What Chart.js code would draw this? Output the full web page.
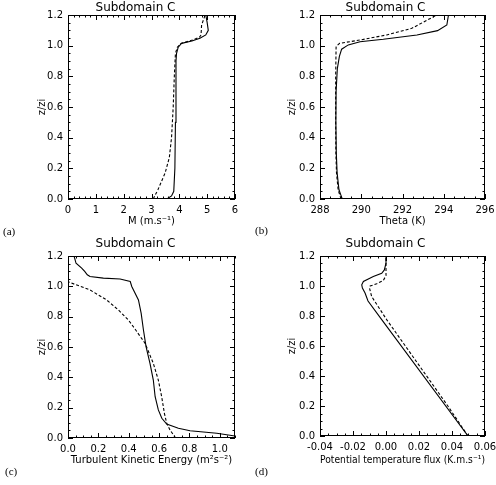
<!DOCTYPE html>
<html lang="en">
<head>
<meta charset="UTF-8" />
<title>Subdomain C profiles</title>
<script src="https://cdn.jsdelivr.net/npm/chart.js"></script>
<style>
  body { margin: 0; background: #fff; width: 496px; height: 485px; position: relative; overflow: hidden; }
  canvas { position: absolute; }
  .tag { position: absolute; font-family: "Liberation Serif", serif; font-size: 11px; line-height: 11px; color: #000; }
</style>
</head>
<body>
<canvas id="chartA" width="248" height="242" style="left:0;top:0"></canvas>
<canvas id="chartB" width="248" height="242" style="left:248px;top:0"></canvas>
<canvas id="chartC" width="248" height="251" style="left:0;top:234px"></canvas>
<canvas id="chartD" width="248" height="251" style="left:248px;top:234px"></canvas>
<div class="tag" style="left:3px;top:226px">(a)</div>
<div class="tag" style="left:255px;top:225px">(b)</div>
<div class="tag" style="left:5px;top:466px">(c)</div>
<div class="tag" style="left:255px;top:466px">(d)</div>

<script>
// shared vertical axis
const zTicks = [0.0, 0.2, 0.4, 0.6, 0.8, 1.0, 1.2];

// (a) wind speed M
const mTicks = [0, 1, 2, 3, 4, 5, 6];
const aZSolid = [0.0, 0.02, 0.05, 0.2, 0.5, 0.9, 0.95, 0.99, 1.015, 1.03, 1.048, 1.07, 1.1, 1.15, 1.2];
const aMSolid = [3.55, 3.72, 3.8, 3.84, 3.86, 3.88, 3.9, 3.96, 4.08, 4.45, 4.74, 4.95, 5.04, 5.0, 4.95];
const aZDash = [0.0, 0.06, 0.17, 0.27, 0.4, 0.6, 0.8, 0.95, 0.99, 1.015, 1.038, 1.055, 1.07, 1.135, 1.18, 1.2];
const aMDash = [3.06, 3.23, 3.49, 3.64, 3.72, 3.78, 3.82, 3.86, 3.93, 4.06, 4.5, 4.72, 4.78, 4.8, 4.89, 4.92];

// (b) theta
const thTicks = [288, 290, 292, 294, 296];
const bZSolid = [0.0, 0.03, 0.06, 0.17, 0.3, 0.5, 0.7, 0.85, 0.93, 0.977, 1.005, 1.026, 1.042, 1.07, 1.098, 1.135, 1.2];
const bTSolid = [289.08, 289.0, 288.92, 288.83, 288.79, 288.77, 288.78, 288.84, 288.94, 289.05, 289.37, 289.94, 291.07, 292.7, 293.7, 294.15, 294.23];
const bZDash = [0.0, 0.06, 0.17, 0.3, 0.5, 0.8, 0.99, 1.0, 1.015, 1.037, 1.07, 1.113, 1.2];
const bTDash = [289.02, 288.88, 288.8, 288.77, 288.76, 288.76, 288.78, 288.82, 288.95, 289.94, 291.24, 292.45, 293.66];

// (c) turbulent kinetic energy
const tkeTicks = [0.0, 0.2, 0.4, 0.6, 0.8, 1.0];
const cZSolid = [0.0, 0.013, 0.031, 0.048, 0.064, 0.092, 0.13, 0.185, 0.272, 0.382, 0.492, 0.602, 0.712, 0.822, 0.91, 0.999, 1.032, 1.048, 1.054, 1.065, 1.076, 1.098, 1.12, 1.152, 1.2];
const cKSolid = [1.2, 1.1, 0.98, 0.804, 0.727, 0.65, 0.618, 0.595, 0.574, 0.562, 0.54, 0.514, 0.497, 0.482, 0.464, 0.42, 0.41, 0.343, 0.233, 0.145, 0.127, 0.11, 0.09, 0.053, 0.04];
const cZDash = [0.0, 0.005, 0.053, 0.097, 0.163, 0.272, 0.382, 0.492, 0.624, 0.712, 0.778, 0.844, 0.91, 0.976, 1.03];
const cKDash = [0.71, 0.705, 0.672, 0.65, 0.635, 0.617, 0.595, 0.562, 0.508, 0.446, 0.398, 0.332, 0.255, 0.145, 0.0];

// (d) potential temperature flux
const fluxTicks = [-0.04, -0.02, 0.0, 0.02, 0.04, 0.06];
const dZSolid = [0.0, 0.776, 0.9, 0.953, 0.986, 1.008, 1.03, 1.063, 1.085, 1.107, 1.152, 1.2];
const dFSolid = [0.0497, -0.0026, -0.0109, -0.0127, -0.0143, -0.0147, -0.0137, -0.0077, -0.0026, -0.001, 0.0, 0.0];
const dZDash = [0.0, 0.2, 0.776, 0.93, 0.986, 1.0, 1.015, 1.037, 1.07, 1.12, 1.2];
const dFDash = [0.0497, 0.0375, 0.0004, -0.0087, -0.01, -0.0096, -0.0056, -0.0016, 0.0, 0.0, 0.0];

const FONT = "'DejaVu Sans', sans-serif";

function pts(xs, zs) {
  return xs.map((v, i) => ({ x: v, y: zs[i] }));
}

// inward IDL-style tick marks on all four sides of the box
const boxTicks = {
  id: 'boxTicks',
  afterDatasetsDraw(chart, args, opts) {
    const { ctx, chartArea: a, scales: { x, y } } = chart;
    ctx.save();
    ctx.strokeStyle = '#000';
    ctx.lineWidth = 1;
    ctx.strokeRect(a.left + 0.5, a.top + 0.5, a.right - a.left - 1, a.bottom - a.top - 1);
    ctx.beginPath();
    function marks(scale, step, len) {
      const vals = [];
      if (step) {
        const n = Math.round((scale.max - scale.min) / step);
        for (let i = 0; i <= n; i++) vals.push(scale.min + i * step);
      } else {
        scale.ticks.forEach(t => vals.push(t.value));
      }
      vals.forEach(v => {
        const p = Math.round(scale.getPixelForValue(v)) + 0.5;
        if (scale.isHorizontal()) {
          ctx.moveTo(p, a.bottom); ctx.lineTo(p, a.bottom - len);
          ctx.moveTo(p, a.top); ctx.lineTo(p, a.top + len);
        } else {
          ctx.moveTo(a.left, p); ctx.lineTo(a.left + len, p);
          ctx.moveTo(a.right, p); ctx.lineTo(a.right - len, p);
        }
      });
    }
    marks(x, 0, 5);
    marks(x, opts.xMinor, 2.5);
    marks(y, 0, 5);
    marks(y, opts.yMinor, 2.5);
    ctx.stroke();
    ctx.restore();
  }
};

function makeChart(id, g, xs) {
  const pad = {
    left: g.yTitleX - 6,
    right: g.w - g.area.r,
    top: 0,
    bottom: g.h - (g.xTitleY + 6)
  };
  return new Chart(document.getElementById(id), {
    type: 'scatter',
    data: {
      datasets: [
        { data: xs.solid, showLine: true, borderColor: '#000', borderWidth: 1.1, pointRadius: 0, tension: 0 },
        { data: xs.dash, showLine: true, borderColor: '#000', borderWidth: 1.1, borderDash: [3, 2], pointRadius: 0, tension: 0 }
      ]
    },
    options: {
      responsive: false,
      animation: false,
      layout: { padding: pad },
      plugins: {
        legend: { display: false },
        tooltip: { enabled: false },
        title: {
          display: true, text: 'Subdomain C', color: '#000',
          font: { family: FONT, size: 12, weight: 'normal' },
          padding: { top: g.titleY - 7.2, bottom: g.area.t - g.titleY - 7.2 }
        },
        boxTicks: { xMinor: xs.xMinor, yMinor: 0.05 }
      },
      scales: {
        x: {
          type: 'linear', min: xs.min, max: xs.max,
          afterBuildTicks: s => { s.ticks = xs.ticks.map(v => ({ value: v })); },
          afterFit: s => { s.height = g.xTitleY + 6 - g.area.b; s.paddingLeft = 0; s.paddingRight = 0; },
          grid: { display: false, drawTicks: false },
          border: { display: false },
          ticks: {
            padding: 5, color: '#000', font: { family: FONT, size: 10 }, maxRotation: 0, autoSkip: false,
            callback: v => v.toFixed(xs.digits)
          },
          title: { display: true, text: xs.title, color: '#000', font: { family: FONT, size: 10 }, padding: 0 }
        },
        y: {
          type: 'linear', min: 0, max: 1.2,
          afterBuildTicks: s => { s.ticks = zTicks.map(v => ({ value: v })); },
          afterFit: s => { s.width = g.area.l - pad.left; s.paddingTop = 0; s.paddingBottom = 0; },
          grid: { display: false, drawTicks: false },
          border: { display: false },
          ticks: { padding: 5, color: '#000', font: { family: FONT, size: 10 }, autoSkip: false, callback: v => v.toFixed(1) },
          title: { display: true, text: 'z/zi', color: '#000', font: { family: FONT, size: 10 }, padding: 0 }
        }
      }
    },
    plugins: [boxTicks]
  });
}

makeChart('chartA',
  { w: 248, h: 242, area: { l: 68, r: 235, t: 15, b: 199 }, titleY: 7.5, yTitleX: 42, xTitleY: 221 },
  { solid: pts(aMSolid, aZSolid), dash: pts(aMDash, aZDash), min: 0, max: 6, ticks: mTicks, digits: 0, xMinor: 0.2, title: 'M (m.s\u207B\u00B9)' });

makeChart('chartB',
  { w: 248, h: 242, area: { l: 72, r: 237, t: 15, b: 199 }, titleY: 7.5, yTitleX: 44, xTitleY: 221 },
  { solid: pts(bTSolid, bZSolid), dash: pts(bTDash, bZDash), min: 288, max: 296, ticks: thTicks, digits: 0, xMinor: 0.5, title: 'Theta (K)' });

makeChart('chartC',
  { w: 248, h: 251, area: { l: 68, r: 235, t: 22, b: 204 }, titleY: 10, yTitleX: 42, xTitleY: 226 },
  { solid: pts(cKSolid, cZSolid), dash: pts(cKDash, cZDash), min: 0, max: 1.1, ticks: tkeTicks, digits: 1, xMinor: 0.05, title: 'Turbulent Kinetic Energy (m\u00B2s\u207B\u00B2)' });

makeChart('chartD',
  { w: 248, h: 251, area: { l: 72, r: 237, t: 22, b: 202 }, titleY: 10, yTitleX: 44, xTitleY: 226 },
  { solid: pts(dFSolid, dZSolid), dash: pts(dFDash, dZDash), min: -0.04, max: 0.06, ticks: fluxTicks, digits: 2, xMinor: 0.005, title: 'Potential temperature flux (K.m.s\u207B\u00B9)' });
</script>
</body>
</html>
